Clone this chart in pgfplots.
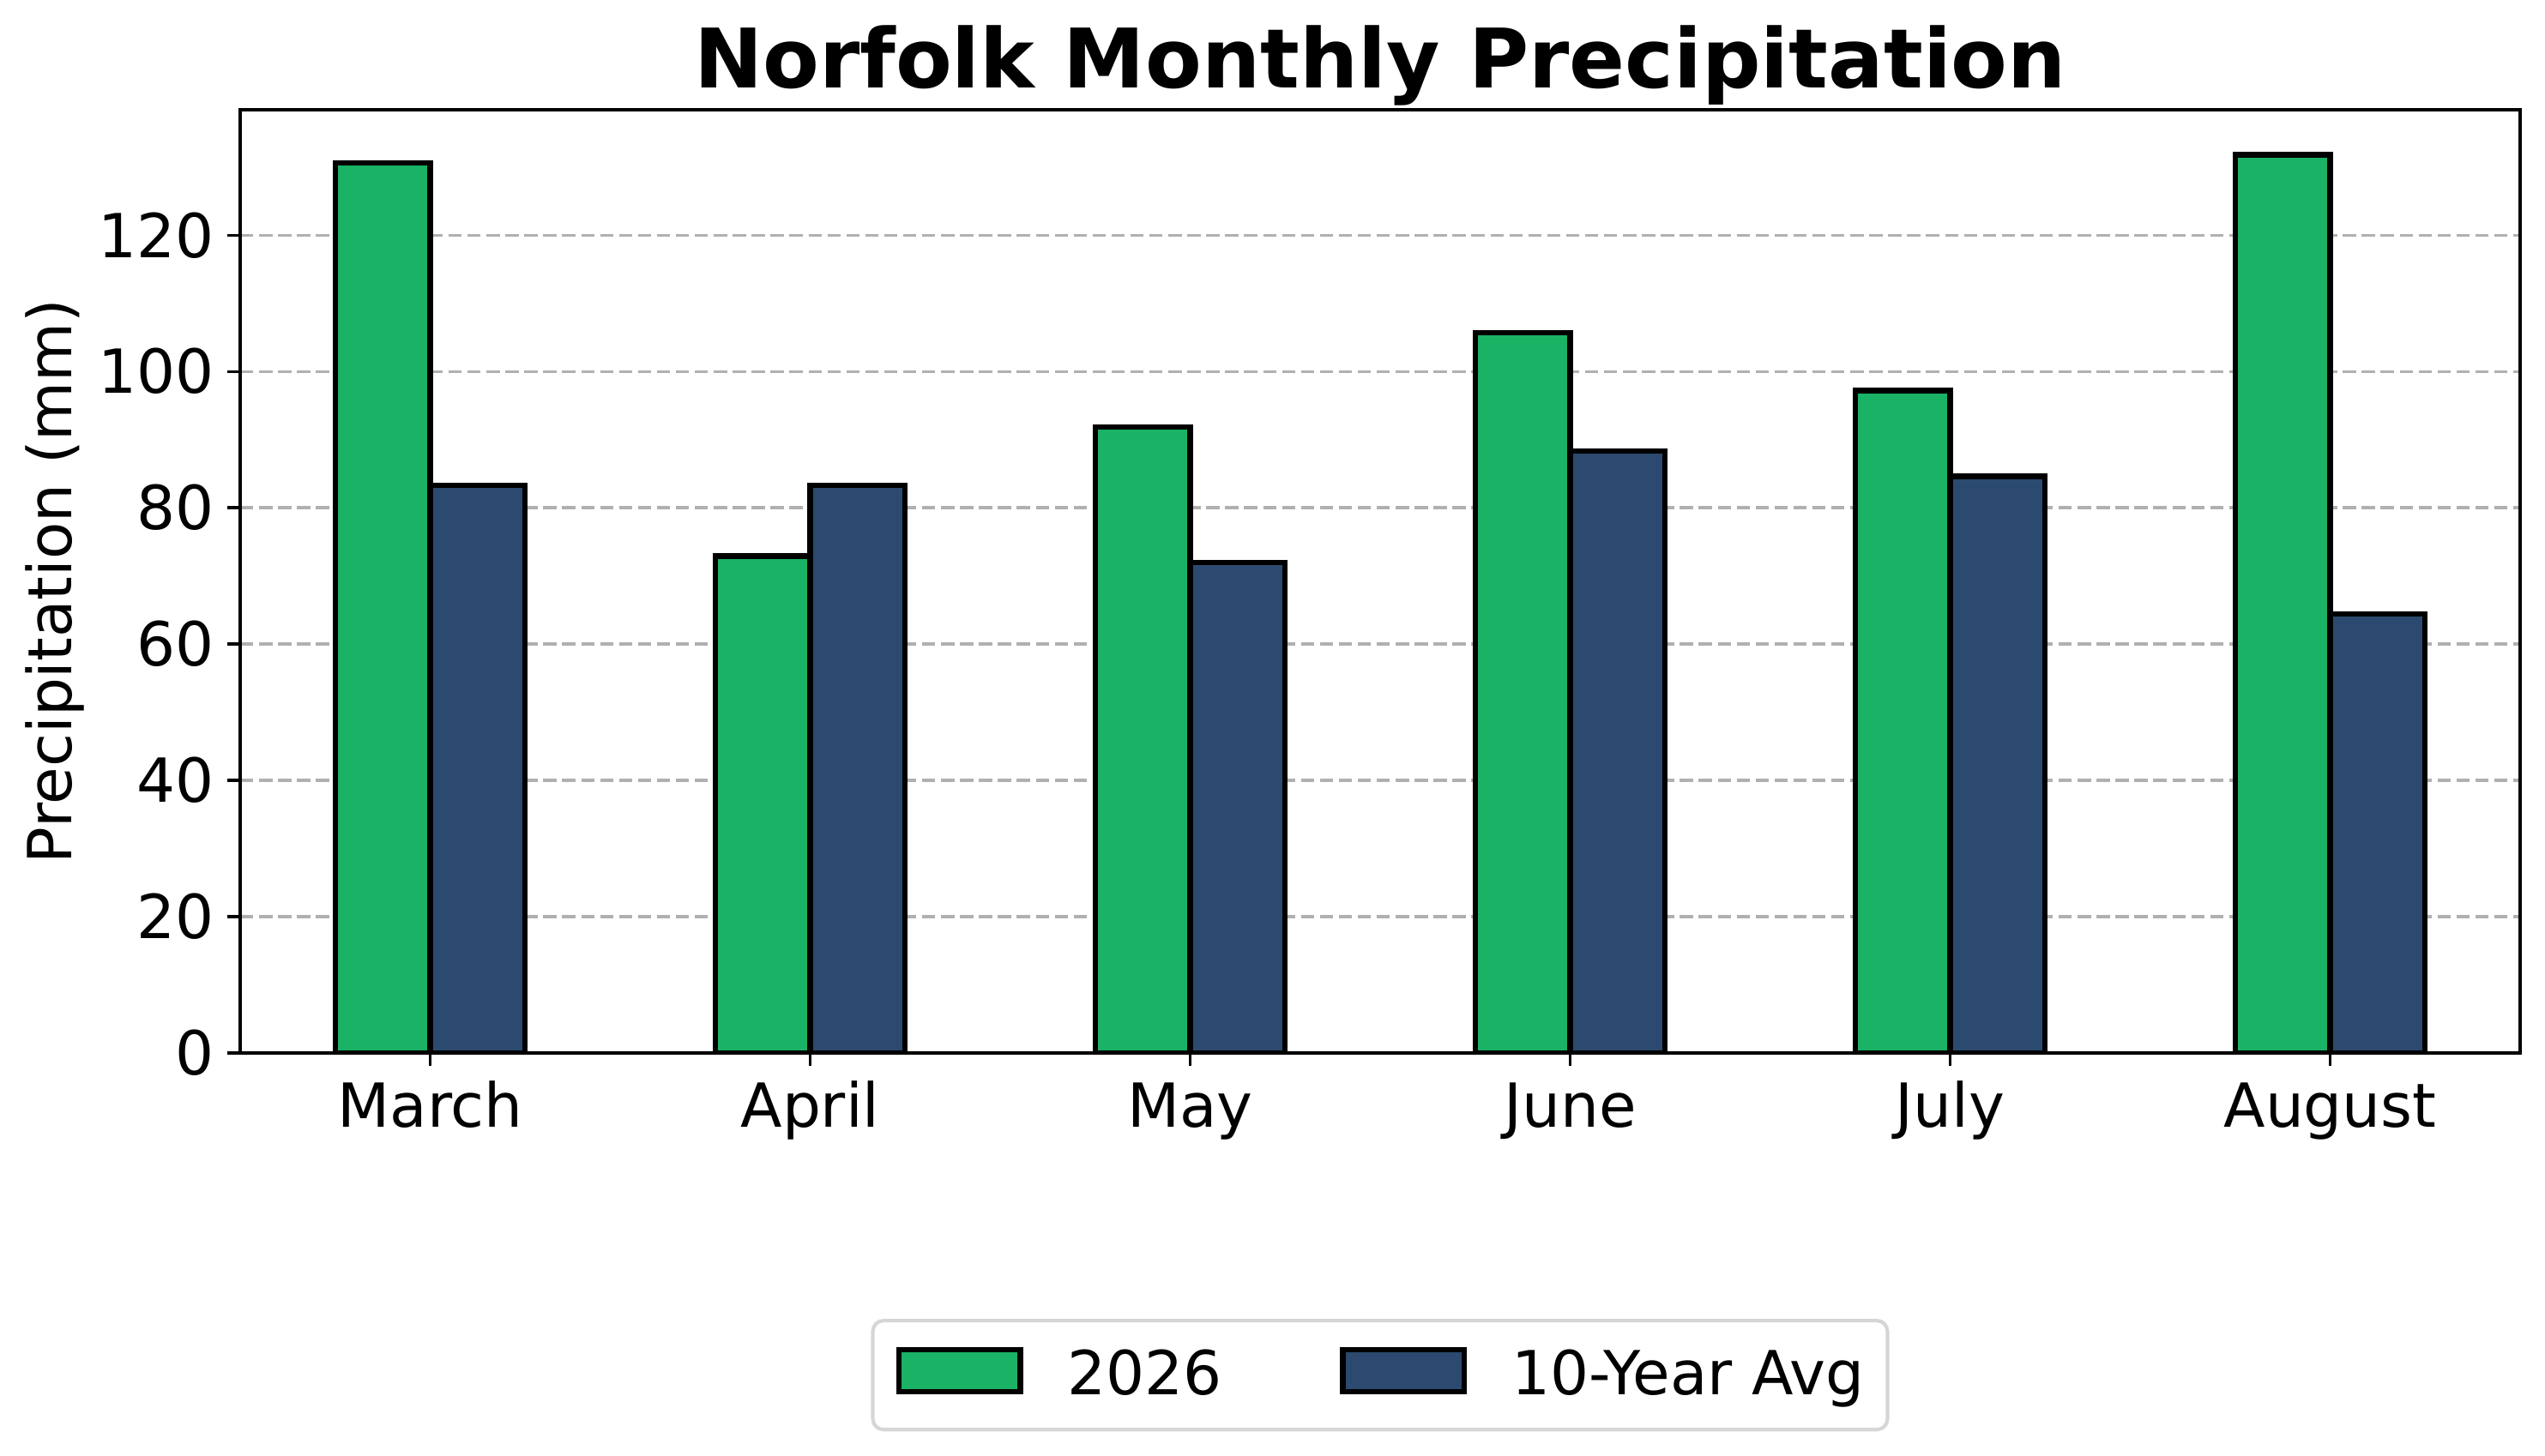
\documentclass[border=0pt]{standalone}
\usepackage{pgfplots}
\pgfplotsset{compat=1.18}
\usepackage{fontspec}
\setmainfont{DejaVu Sans}
\definecolor{cgreen}{HTML}{1AB265}
\definecolor{cblue}{HTML}{2C4A6F}
\definecolor{cgrid}{RGB}{176,176,176}
\definecolor{cframe}{RGB}{214,214,214}
\pgfplotsset{
  legpatch/.style={legend image code/.code={\draw[##1, line width=1.5pt, sharp corners] (0.75pt,0.75pt) rectangle (34.75pt,12.65pt);}}
}
\begin{document}
\begin{tikzpicture}
\path[use as bounding box] (0,0) rectangle (712.08pt,407.28pt);
\begin{axis}[
  at={(67.2pt,112.56pt)}, anchor=south west,
  scale only axis, width=637.92pt, height=264pt,
  xmin=-0.5, xmax=5.5, ymin=0, ymax=138.4,
  xtick={0,1,2,3,4,5},
  xticklabels={March,April,May,June,July,August},
  ytick={0,20,40,60,80,100,120},
  /pgf/number format/assume math mode=true,
  tick align=outside, major tick length=3.5pt,
  xtick pos=left, ytick pos=left,
  every tick/.style={black, line width=0.8pt},
  axis line style={black, line width=0.8pt},
  ticklabel style={font=\fontsize{17}{20}\selectfont},
  yticklabel style={anchor=east, inner sep=0pt, xshift=-3.5pt},
  xticklabel style={anchor=base, inner sep=0pt, yshift=-17.2pt},
  ymajorgrids,
  major grid style={cgrid, line width=0.8pt, dash pattern=on 3.7pt off 1.6pt},
  title={Norfolk Monthly Precipitation},
  title style={at={(axis description cs:0.5,1)}, anchor=base, inner sep=0pt, font=\fontsize{23}{27}\selectfont\bfseries},
  ylabel={Precipitation (mm)},
  ylabel style={at={(axis description cs:-0.074,0.5)}, anchor=base, inner sep=0pt, font=\fontsize{17}{20}\selectfont},
  legend columns=2,
  legend style={at={(axis description cs:0.5,-0.3415)}, anchor=center,
    draw=cframe, line width=1pt, rounded corners=3pt, fill=white,
    inner xsep=6.5pt, inner ysep=4.3pt,
    font=\fontsize{17}{20}\selectfont,
    cells={anchor=base west},
    nodes={inner sep=0pt, text height=16.4pt, text depth=5.5pt},
    /tikz/every odd column/.append style={column sep=12.5pt},
    /tikz/every even column/.append style={column sep=33pt}},
]
\addplot[ybar, bar width=0.25, bar shift=-0.125, fill=cgreen, draw=black, line width=1.5pt, legpatch]
  coordinates {(0,130.6) (1,72.9) (2,91.8) (3,105.7) (4,97.2) (5,131.8)};
\addlegendentry{2026}
\addplot[ybar, bar width=0.25, bar shift=0.125, fill=cblue, draw=black, line width=1.5pt, legpatch]
  coordinates {(0,83.3) (1,83.3) (2,72.0) (3,88.3) (4,84.6) (5,64.4)};
\addlegendentry{10-Year Avg}
\end{axis}
\end{tikzpicture}
\end{document}
